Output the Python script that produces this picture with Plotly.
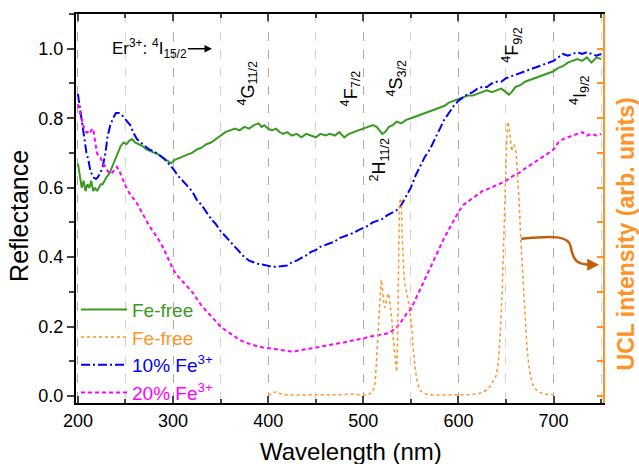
import plotly.graph_objects as go

# ---------------- data ----------------
wl_green = [200,202,204,206,208,210,212,214,216,218,220,222,224,226,228,230,233,236,239,242,245,248,251,254,257,260,264,268,272,276,280,285,290,295,298,302,306,310,315,320,325,330,335,340,345,350,355,360,365,370,375,380,385,390,393,396,400,404,408,412,416,420,425,430,435,440,445,450,455,460,465,470,475,480,485,490,495,500,505,510,514,517,520,523,527,531,535,540,545,550,555,560,565,570,575,580,585,590,595,600,605,610,615,620,625,630,635,640,645,650,653,656,660,665,670,675,680,685,690,695,700,705,710,715,720,725,730,735,740,745,750]
refl_green = [0.67,0.63,0.60,0.62,0.59,0.61,0.60,0.62,0.59,0.60,0.59,0.60,0.61,0.61,0.62,0.63,0.64,0.66,0.68,0.70,0.72,0.73,0.725,0.735,0.74,0.73,0.725,0.72,0.71,0.705,0.70,0.695,0.685,0.675,0.67,0.68,0.685,0.69,0.695,0.70,0.71,0.715,0.725,0.73,0.74,0.75,0.76,0.765,0.77,0.765,0.775,0.77,0.78,0.785,0.775,0.78,0.77,0.765,0.77,0.76,0.755,0.76,0.75,0.755,0.745,0.755,0.75,0.745,0.755,0.75,0.755,0.75,0.76,0.745,0.755,0.76,0.765,0.77,0.775,0.78,0.775,0.765,0.755,0.76,0.775,0.78,0.79,0.785,0.795,0.80,0.805,0.81,0.815,0.82,0.825,0.83,0.835,0.845,0.85,0.855,0.86,0.865,0.865,0.87,0.875,0.88,0.875,0.88,0.885,0.875,0.868,0.875,0.89,0.895,0.905,0.91,0.915,0.92,0.925,0.93,0.935,0.945,0.95,0.96,0.965,0.97,0.965,0.975,0.96,0.975,0.97]

wl_blue = [200,202,204,207,209,211,213,216,219,221,224,226,229,231,234,237,240,243,246,249,252,255,258,262,266,270,275,280,285,290,295,300,305,310,315,320,325,330,335,340,345,350,355,360,365,370,375,380,385,390,395,400,405,410,415,420,425,430,435,440,445,450,455,460,465,470,475,480,485,490,495,500,505,510,515,520,525,530,535,540,545,550,555,560,565,570,575,580,585,590,595,600,605,610,615,620,625,630,635,640,645,650,655,660,665,670,675,680,685,690,695,700,705,710,715,720,725,730,735,740,745,750]
refl_blue = [0.87,0.83,0.79,0.735,0.70,0.68,0.65,0.63,0.625,0.63,0.645,0.66,0.70,0.745,0.78,0.80,0.815,0.815,0.81,0.80,0.79,0.78,0.76,0.74,0.73,0.72,0.71,0.705,0.695,0.685,0.67,0.655,0.635,0.62,0.605,0.59,0.565,0.55,0.53,0.51,0.495,0.475,0.46,0.445,0.43,0.415,0.40,0.39,0.385,0.38,0.378,0.375,0.372,0.373,0.375,0.376,0.385,0.39,0.398,0.405,0.415,0.42,0.43,0.435,0.44,0.445,0.455,0.46,0.465,0.47,0.478,0.485,0.49,0.50,0.505,0.51,0.52,0.527,0.535,0.55,0.575,0.60,0.635,0.665,0.69,0.71,0.74,0.77,0.795,0.815,0.835,0.85,0.86,0.87,0.875,0.885,0.89,0.89,0.90,0.905,0.905,0.915,0.92,0.925,0.93,0.935,0.94,0.945,0.95,0.955,0.96,0.965,0.975,0.985,0.98,0.985,0.99,0.985,0.99,0.985,0.98,0.985]

wl_mag = [200,202,204,206,208,210,212,214,216,218,220,222,224,226,229,232,235,238,241,244,247,250,254,258,262,266,270,275,280,285,290,295,300,305,310,315,320,325,330,335,340,345,350,355,360,365,370,375,380,385,390,395,400,405,410,415,420,425,430,435,440,445,450,455,460,465,470,475,480,485,490,495,500,505,510,515,520,525,530,535,540,545,550,555,560,565,570,575,580,585,590,595,600,605,610,615,620,625,630,635,640,645,650,655,660,665,670,675,680,685,690,695,700,705,710,715,720,725,730,735,740,745,750]
refl_mag = [0.84,0.815,0.80,0.775,0.76,0.76,0.755,0.765,0.77,0.74,0.70,0.69,0.685,0.67,0.66,0.645,0.64,0.65,0.66,0.645,0.625,0.605,0.585,0.57,0.555,0.535,0.515,0.49,0.47,0.45,0.425,0.395,0.365,0.345,0.33,0.315,0.30,0.28,0.26,0.245,0.23,0.215,0.20,0.19,0.18,0.17,0.162,0.155,0.15,0.145,0.142,0.14,0.138,0.135,0.132,0.13,0.128,0.128,0.13,0.132,0.135,0.137,0.14,0.142,0.145,0.147,0.15,0.152,0.155,0.158,0.16,0.163,0.166,0.17,0.173,0.176,0.178,0.18,0.187,0.198,0.215,0.235,0.25,0.28,0.305,0.335,0.365,0.395,0.425,0.455,0.48,0.505,0.53,0.55,0.56,0.57,0.58,0.59,0.595,0.60,0.607,0.613,0.62,0.63,0.637,0.645,0.655,0.665,0.673,0.682,0.69,0.70,0.71,0.73,0.74,0.745,0.75,0.755,0.76,0.75,0.755,0.75,0.755]

wl_ucl = [400,403,406,409,412,416,420,430,440,450,460,470,480,488,492,500,505,509,511,512,513,514,515,516,517,518,519,520,521,522,523,524,525,526,527,528,529,530,531,532,533,534,535,536,537,538,539,540,541,542,543,544,545,546,547,548,549,550,551,552,553,554,555,557,560,566,570,580,590,600,610,620,625,630,634,637,640,642,644,646,648,650,651,652,653,654,655,656,657,658,659,660,661,662,663,664,666,668,670,672,674,676,678,681,685,690,695,700]
ucl = [0.003,0.005,0.01,0.013,0.008,0.004,0.003,0.003,0.003,0.003,0.003,0.004,0.004,0.006,0.005,0.003,0.004,0.01,0.02,0.03,0.06,0.10,0.14,0.19,0.25,0.30,0.335,0.31,0.28,0.26,0.255,0.27,0.29,0.295,0.29,0.27,0.245,0.22,0.18,0.15,0.12,0.08,0.07,0.15,0.35,0.55,0.57,0.56,0.45,0.38,0.34,0.32,0.30,0.29,0.28,0.26,0.245,0.23,0.20,0.15,0.12,0.095,0.07,0.037,0.015,0.006,0.003,0.003,0.003,0.003,0.004,0.006,0.01,0.018,0.03,0.045,0.06,0.10,0.18,0.30,0.50,0.70,0.75,0.79,0.78,0.76,0.72,0.705,0.72,0.725,0.72,0.71,0.69,0.65,0.60,0.55,0.43,0.32,0.22,0.14,0.09,0.055,0.035,0.02,0.01,0.006,0.004,0.003]

legend_names = ["Fe-free", "Fe-free", "10% Fe<sup>3+</sup>", "20% Fe<sup>3+</sup>"]
c_green, c_orange, c_blue, c_mag = "#3a9a22", "#ff9326", "#0000ff", "#ff00ff"

FONT = "Liberation Sans, Arial, sans-serif"

fig = go.Figure()
fig.add_trace(go.Scatter(x=wl_green, y=refl_green, mode="lines",
    name=f'<span style="color:{c_green}">{legend_names[0]}</span>',
    line=dict(color=c_green, width=2)))
fig.add_trace(go.Scatter(x=wl_ucl, y=ucl, mode="lines", yaxis="y2",
    name=f'<span style="color:{c_orange}">{legend_names[1]}</span>',
    line=dict(color=c_orange, width=1.5, dash="dot")))
fig.add_trace(go.Scatter(x=wl_blue, y=refl_blue, mode="lines",
    name=f'<span style="color:{c_blue}">{legend_names[2]}</span>',
    line=dict(color=c_blue, width=2, dash="9px,3px,2px,3px")))
fig.add_trace(go.Scatter(x=wl_mag, y=refl_mag, mode="lines",
    name=f'<span style="color:{c_mag}">{legend_names[3]}</span>',
    line=dict(color=c_mag, width=2, dash="4px,3px")))

fig.update_layout(
    width=639, height=464,
    margin=dict(l=76, r=36, t=14, b=61),
    paper_bgcolor="white", plot_bgcolor="white",
    font=dict(family=FONT, size=18, color="black"),
    showlegend=True,
    legend=dict(x=0.0, y=-0.022, xanchor="left", yanchor="bottom",
                bgcolor="rgba(0,0,0,0)", font=dict(size=19, family=FONT),
                tracegroupgap=0, itemwidth=46),
    xaxis=dict(range=[198, 752], dtick=100, tick0=200, ticks="inside", ticklen=7,
               tickwidth=1.5, showline=True, linewidth=2, linecolor="black",
               mirror="ticks", showgrid=True, gridcolor="#aaaaaa", griddash="dash",
               gridwidth=1, zeroline=False, tickfont=dict(size=18),
               minor=dict(dtick=50, ticks="inside", ticklen=4, showgrid=True,
                          gridcolor="#d4d4d4", griddash="dash")),
    yaxis=dict(range=[-0.02, 1.1], dtick=0.2, tick0=0, tickformat=".1f",
               ticks="outside", ticklen=7, tickwidth=1.5, showline=True,
               linewidth=2, linecolor="black", showgrid=False, zeroline=False,
               tickfont=dict(size=18),
               minor=dict(dtick=0.1, ticks="outside", ticklen=5)),
    yaxis2=dict(range=[-0.02, 1.1], overlaying="y", side="right", dtick=0.1, tick0=0,
                ticks="inside", ticklen=6, tickwidth=1.5, tickcolor=c_orange,
                showline=True, linewidth=2, linecolor=c_orange,
                showticklabels=False, showgrid=False, zeroline=False),
)

ann = []
# axis titles
ann.append(dict(text="Wavelength (nm)", xref="paper", yref="paper", x=0.522, y=-0.125,
                xanchor="center", yanchor="middle", showarrow=False,
                font=dict(size=24, family=FONT)))
ann.append(dict(text="Reflectance", xref="paper", yref="paper", x=-0.107, y=0.48,
                xanchor="center", yanchor="middle", showarrow=False, textangle=-90,
                font=dict(size=25, family=FONT)))
ann.append(dict(text="<b>UCL intensity (arb. units)</b>", xref="paper", yref="paper",
                x=1.043, y=0.435, xanchor="center", yanchor="middle", showarrow=False,
                textangle=-90, font=dict(size=23, family=FONT, color=c_orange)))
# level labels
ann.append(dict(text="Er<sup>3+</sup>: <sup>4</sup>I<sub>15/2</sub>", x=275, y=1.0,
                xanchor="center", yanchor="middle", showarrow=False,
                font=dict(size=17, family=FONT)))
ann.append(dict(x=341, y=1.0, ax=314, ay=1.0, axref="x", ayref="y", text="",
                showarrow=True, arrowhead=2, arrowsize=1, arrowwidth=1.5, arrowcolor="black"))
levels = [("<sup>4</sup>G<sub>11/2</sub>", 378.6, 0.902),
          ("<sup>4</sup>F<sub>7/2</sub>", 486.8, 0.885),
          ("<sup>4</sup>S<sub>3/2</sub>", 535.0, 0.916),
          ("<sup>2</sup>H<sub>11/2</sub>", 517.2, 0.68),
          ("<sup>4</sup>F<sub>9/2</sub>", 655.9, 1.01),
          ("<sup>4</sup>I<sub>9/2</sub>", 727.3, 0.88)]
for t, x, y in levels:
    ann.append(dict(text=t, x=x, y=y, xref="x", yref="y", xanchor="center",
                    yanchor="middle", showarrow=False, textangle=-90,
                    font=dict(size=18, family=FONT)))
# curved brown arrow head
ann.append(dict(x=748, y=0.378, ax=736, ay=0.378, axref="x", ayref="y", text="",
                showarrow=True, arrowhead=2, arrowsize=1.2, arrowwidth=2, arrowcolor="#c0600c"))
fig.update_layout(annotations=ann)

fig.add_shape(type="path", xref="x", yref="y",
              path="M 666,0.453 C 700,0.462 716,0.462 718,0.43 C 721,0.385 726,0.378 740,0.378",
              line=dict(color="#c0600c", width=2.5))

fig.write_html("out.html")
